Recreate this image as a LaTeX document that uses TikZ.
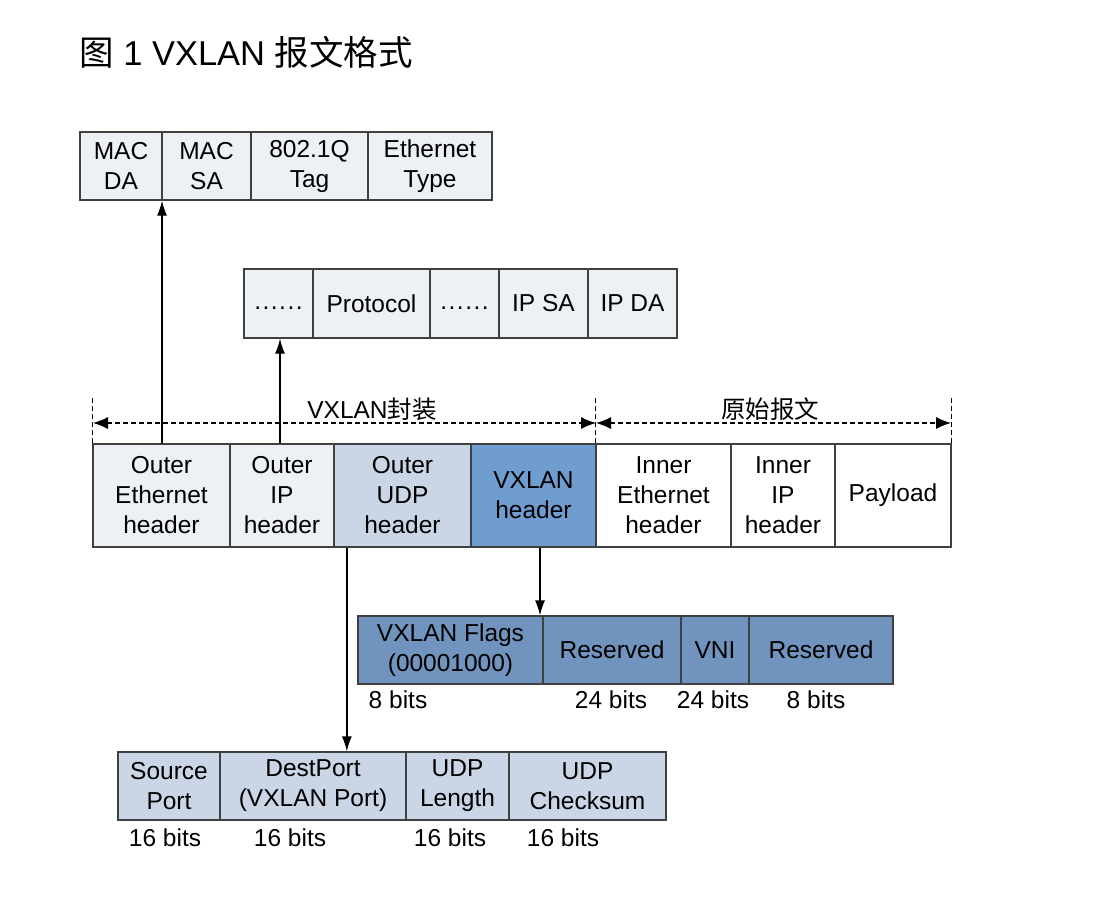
\documentclass[tikz,border=0pt]{standalone}
\usepackage{fontspec}
\setmainfont{Liberation Sans}
\newfontfamily\cjk{Noto Sans CJK SC}
\usetikzlibrary{arrows.meta}
\definecolor{lightf}{HTML}{EDF0F5}
\definecolor{udpf}{HTML}{CAD5E6}
\definecolor{vxhf}{HTML}{6F9DCF}
\definecolor{vxff}{HTML}{7194BF}
\definecolor{linec}{HTML}{404040}
\newcommand{\sixdots}{\vphantom{Pp}.\kern1.5pt.\kern1.5pt.\kern1.5pt.\kern1.5pt.\kern1.5pt.}
\tikzset{
  field/.style={draw=linec, line width=1.3pt, inner sep=0pt, align=center,
    font=\fontsize{24.5}{30}\selectfont},
  bits/.style={inner sep=0pt, font=\fontsize{24.5}{30}\selectfont},
  conn/.style={line width=1.3pt, -{Latex[length=15pt,width=10pt]}},
  span/.style={line width=1.2pt, dashed, dash pattern=on 5pt off 3pt, {Latex[length=15pt,width=12pt]}-{Latex[length=15pt,width=12pt]}},
  tick/.style={line width=1pt, dashed, dash pattern=on 5pt off 3pt},
}
\begin{document}
\begin{tikzpicture}[x=1pt,y=-1pt]
\useasboundingbox[fill=white] (0,0) rectangle (1117,906);
% title
\node[anchor=west, inner sep=0pt, font=\fontsize{34.5}{38}\selectfont] (title) at (79,52) {{\cjk 图} 1 VXLAN {\cjk 报文格式}};
% Ethernet row
\node[field, fill=lightf, minimum width=82pt, minimum height=68pt] (macda) at (121,166) {MAC\\DA};
\node[field, fill=lightf, minimum width=89pt, minimum height=68pt] (macsa) at (206.5,166) {MAC\\SA};
\node[field, fill=lightf, minimum width=117pt, minimum height=68pt] (tag) at (309.5,166) {802.1Q\\Tag};
\node[field, fill=lightf, minimum width=124pt, minimum height=68pt] (etype) at (430,166) {Ethernet\\Type};
% IP row
\node[field, fill=lightf, minimum width=69pt, minimum height=69pt] (ipa) at (278.5,303.5) {\sixdots};
\node[field, fill=lightf, minimum width=117pt, minimum height=69pt] (proto) at (371.5,303.5) {Protocol};
\node[field, fill=lightf, minimum width=69pt, minimum height=69pt] (ipb) at (464.5,303.5) {\sixdots};
\node[field, fill=lightf, minimum width=89pt, minimum height=69pt] (ipsa) at (543.5,303.5) {IP SA};
\node[field, fill=lightf, minimum width=89pt, minimum height=69pt] (ipda) at (632.5,303.5) {IP DA};
% main row
\node[field, fill=lightf, minimum width=137pt, minimum height=103pt] (oeth) at (161.5,495.5) {Outer\\Ethernet\\header};
\node[field, fill=lightf, minimum width=104pt, minimum height=103pt] (oip) at (282,495.5) {Outer\\IP\\header};
\node[field, fill=udpf, minimum width=137pt, minimum height=103pt] (oudp) at (402.5,495.5) {Outer\\UDP\\header};
\node[field, fill=vxhf, minimum width=125pt, minimum height=103pt] (vxh) at (533.5,495.5) {VXLAN\\header};
\node[field, fill=white, minimum width=135pt, minimum height=103pt] (ieth) at (663.5,495.5) {Inner\\Ethernet\\header};
\node[field, fill=white, minimum width=104pt, minimum height=103pt] (iip) at (783,495.5) {Inner\\IP\\header};
\node[field, fill=white, minimum width=116pt, minimum height=103pt] (pay) at (893,495.5) {Payload};
% VXLAN header fields
\node[field, fill=vxff, minimum width=185pt, minimum height=68pt] (flags) at (450.5,650) {VXLAN Flags\\(00001000)};
\node[field, fill=vxff, minimum width=138pt, minimum height=68pt] (res1) at (612,650) {Reserved};
\node[field, fill=vxff, minimum width=68pt, minimum height=68pt] (vni) at (715,650) {VNI};
\node[field, fill=vxff, minimum width=144pt, minimum height=68pt] (res2) at (821,650) {Reserved};
\node[bits] (b1) at (398,700) {8 bits};
\node[bits] (b2) at (611,700) {24 bits};
\node[bits] (b3) at (713,700) {24 bits};
\node[bits] (b4) at (816,700) {8 bits};
% UDP fields
\node[field, fill=udpf, minimum width=102pt, minimum height=68pt] (sport) at (169,786) {Source\\Port};
\node[field, fill=udpf, minimum width=186pt, minimum height=68pt] (dport) at (313,786) {DestPort\\(VXLAN Port)};
\node[field, fill=udpf, minimum width=103pt, minimum height=68pt] (ulen) at (457.5,786) {UDP\\Length};
\node[field, fill=udpf, minimum width=157pt, minimum height=68pt] (usum) at (587.5,786) {UDP\\Checksum};
\node[bits] (u1) at (165,838) {16 bits};
\node[bits] (u2) at (290,838) {16 bits};
\node[bits] (u3) at (450,838) {16 bits};
\node[bits] (u4) at (563,838) {16 bits};
% spans
\coordinate (sL) at (93,423);
\coordinate (sM) at (596,423);
\coordinate (sR) at (951,423);
\draw[tick] (oeth.north west) -- ++(0,-47);
\draw[tick] (ieth.north west) -- ++(0,-47);
\draw[tick] (pay.north east) -- ++(0,-47);
\draw[span] (sL) -- (sM);
\draw[span] (sM) -- (sR);
\node[inner sep=0pt, font=\fontsize{24.5}{28}\selectfont] (lab1) at (372,409) {VXLAN{\cjk 封装}};
\node[inner sep=0pt, font=\cjk\fontsize{24.5}{28}\selectfont] (lab2) at (770,409) {原始报文};
% connectors
\draw[conn] ([xshift=0.5pt]oeth.north) -- ([xshift=0.5pt]oeth.north |- macda.south);
\draw[conn] ([xshift=-2pt]oip.north) -- ([xshift=-2pt]oip.north |- ipa.south);
\coordinate (udpout) at ([xshift=13.5pt]oudp.south west);
\draw[conn] (udpout) -- (udpout |- dport.north);
\coordinate (vxout) at ([xshift=6.5pt]vxh.south);
\draw[conn] (vxout) -- (vxout |- flags.north);
\end{tikzpicture}
\end{document}
